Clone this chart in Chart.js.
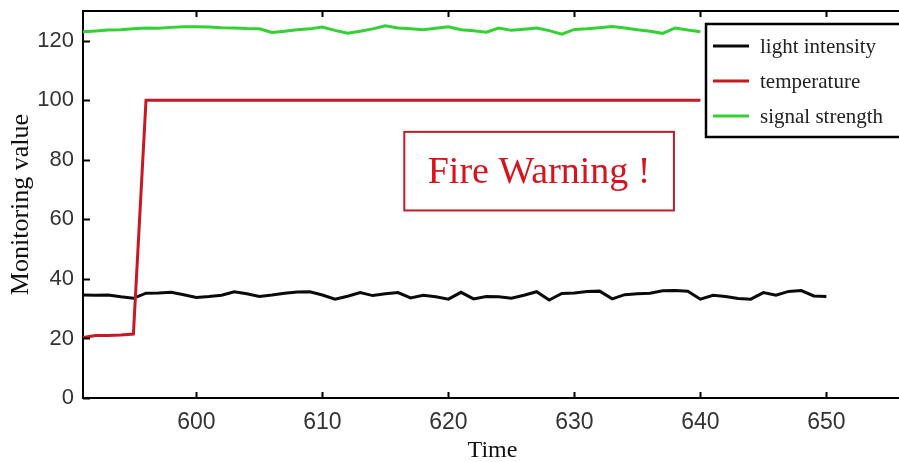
<!DOCTYPE html>
<html>
<head>
<meta charset="utf-8">
<script src="https://cdn.jsdelivr.net/npm/chart.js@4.4.1/dist/chart.umd.min.js"></script>
<style>
  html, body { margin: 0; padding: 0; background: #fff; overflow: hidden; }
  #monitorChart { display: block; }
</style>
</head>
<body>
<canvas id="monitorChart" width="905" height="462"></canvas>
<script>
// time axis (s)
const timeSec = [591, 592, 593, 594, 595, 596, 597, 598, 599, 600,
    601, 602, 603, 604, 605, 606, 607, 608, 609, 610,
    611, 612, 613, 614, 615, 616, 617, 618, 619, 620,
    621, 622, 623, 624, 625, 626, 627, 628, 629, 630,
    631, 632, 633, 634, 635, 636, 637, 638, 639, 640,
    641, 642, 643, 644, 645, 646, 647, 648, 649, 650];

const lightIntensity = [34.6, 34.5, 34.6, 34.0, 33.5, 35.2, 35.3, 35.5, 34.7, 33.8,
    34.1, 34.5, 35.7, 35.0, 34.1, 34.6, 35.2, 35.6, 35.7, 34.6,
    33.2, 34.2, 35.4, 34.4, 35.0, 35.4, 33.6, 34.5, 34.0, 33.2,
    35.5, 33.3, 34.1, 34.0, 33.5, 34.5, 35.7, 32.9, 35.1, 35.3,
    35.8, 35.9, 33.3, 34.7, 35.0, 35.2, 36.0, 36.1, 35.9, 33.2,
    34.5, 34.1, 33.4, 33.2, 35.4, 34.5, 35.8, 36.1, 34.3, 34.1];

const temperature = [20.3, 21.0, 21.0, 21.2, 21.5, 100, 100, 100, 100, 100,
    100, 100, 100, 100, 100, 100, 100, 100, 100, 100,
    100, 100, 100, 100, 100, 100, 100, 100, 100, 100,
    100, 100, 100, 100, 100, 100, 100, 100, 100, 100,
    100, 100, 100, 100, 100, 100, 100, 100, 100, 100];

const signalStrength = [123.0, 123.3, 123.6, 123.7, 124.0, 124.3, 124.2, 124.5, 124.7, 124.7,
    124.6, 124.4, 124.3, 124.1, 124.0, 122.8, 123.2, 123.7, 124.0, 124.6,
    123.5, 122.5, 123.2, 124.0, 125.0, 124.3, 124.0, 123.7, 124.2, 124.7,
    123.7, 123.4, 122.9, 124.3, 123.5, 123.9, 124.3, 123.4, 122.2, 123.8,
    124.0, 124.4, 124.8, 124.3, 123.7, 123.2, 122.5, 124.3, 123.6, 123.0];

const xTicks = [600, 610, 620, 630, 640, 650];
const yTicks = [0, 20, 40, 60, 80, 100, 120];

const warningText = 'Fire Warning !';

// pair time with values (series may be shorter than the time axis)
function ToPoints(values) {
    return values.map((v, i) => ({ x: timeSec[i], y: v }));
}

// MATLAB style frame: top border and inward tick marks, warning box, legend
const framePlugin = {
    id: 'frame',
    afterDraw(chart) {
        const ctx = chart.ctx;
        const area = chart.chartArea;
        const xs = chart.scales.x;
        const ys = chart.scales.y;
        ctx.save();
        ctx.strokeStyle = '#000';
        ctx.lineWidth = 2;
        ctx.beginPath();
        ctx.moveTo(area.left, area.top);
        ctx.lineTo(area.right, area.top);
        xTicks.forEach(v => {
            const px = Math.round(xs.getPixelForValue(v)) + 0.5;
            ctx.moveTo(px, area.bottom);
            ctx.lineTo(px, area.bottom - 6);
            ctx.moveTo(px, area.top);
            ctx.lineTo(px, area.top + 6);
        });
        yTicks.forEach(v => {
            const py = Math.round(ys.getPixelForValue(v)) + 0.5;
            ctx.moveTo(area.left, py);
            ctx.lineTo(area.left + 7, py);
        });
        ctx.stroke();

        // warning box, placed in data coordinates
        const bx1 = xs.getPixelForValue(616.5), bx2 = xs.getPixelForValue(637.9);
        const by1 = ys.getPixelForValue(89.4), by2 = ys.getPixelForValue(63);
        ctx.strokeStyle = 'rgb(190, 30, 40)';
        ctx.lineWidth = 2;
        ctx.strokeRect(bx1, by1, bx2 - bx1, by2 - by1);
        ctx.fillStyle = 'rgb(215, 20, 30)';
        ctx.font = '38px "Liberation Serif", "Times New Roman", serif';
        ctx.textAlign = 'center';
        ctx.textBaseline = 'middle';
        ctx.fillText(warningText, (bx1 + bx2) / 2, (by1 + by2) / 2 + 2);

        // legend box in the upper right corner
        const lx = 706, ly = 24, lh = 113;
        ctx.fillStyle = '#fff';
        ctx.fillRect(lx, ly, chart.width - lx + 10, lh);
        ctx.strokeStyle = '#000';
        ctx.lineWidth = 2.5;
        ctx.strokeRect(lx, ly, chart.width - lx + 10, lh);
        ctx.font = '21px "Liberation Serif", "Times New Roman", serif';
        ctx.textAlign = 'left';
        chart.data.datasets.forEach((ds, i) => {
            const y = ly + 22 + i * 35;
            ctx.strokeStyle = ds.borderColor;
            ctx.lineWidth = 3;
            ctx.beginPath();
            ctx.moveTo(713, y);
            ctx.lineTo(749, y);
            ctx.stroke();
            ctx.fillStyle = '#222';
            ctx.fillText(ds.label, 760, y + 1);
        });
        ctx.restore();
    }
};

const config = {
    type: 'line',
    data: {
        datasets: [
            {
                label: 'light intensity',
                data: ToPoints(lightIntensity),
                borderColor: 'rgb(10, 10, 10)',
                borderWidth: 3,
                order: 1
            },
            {
                label: 'temperature',
                data: ToPoints(temperature),
                borderColor: 'rgb(200, 25, 35)',
                borderWidth: 3,
                order: 0
            },
            {
                label: 'signal strength',
                data: ToPoints(signalStrength),
                borderColor: 'rgb(50, 210, 50)',
                borderWidth: 3,
                order: 2
            }
        ]
    },
    options: {
        responsive: false,
        animation: false,
        devicePixelRatio: 1,
        layout: { padding: { top: 11, right: 3, left: 0, bottom: 0 } },
        elements: {
            point: { radius: 0 },
            line: { tension: 0, fill: false }
        },
        plugins: {
            legend: { display: false },
            tooltip: { enabled: false }
        },
        scales: {
            x: {
                type: 'linear',
                min: 591,
                max: 656,
                afterBuildTicks: s => { s.ticks = xTicks.map(v => ({ value: v })); },
                afterFit: s => { s.height = 64; s.paddingLeft = 0; s.paddingRight = 0; },
                grid: { display: false, drawTicks: false },
                border: { display: true, color: '#000', width: 2 },
                ticks: {
                    color: '#333',
                    padding: 11,
                    maxRotation: 0,
                    font: { family: '"Liberation Sans", Arial, sans-serif', size: 23 }
                },
                title: {
                    display: true,
                    text: 'Time',
                    color: '#111',
                    padding: { top: 0, bottom: -3 },
                    font: { family: '"Liberation Serif", "Times New Roman", serif', size: 24 }
                }
            },
            y: {
                min: 0,
                max: 130,
                afterBuildTicks: s => { s.ticks = yTicks.map(v => ({ value: v })); },
                afterFit: s => { s.width = 83; s.paddingTop = 0; s.paddingBottom = 0; },
                grid: { display: false, drawTicks: false },
                border: { display: true, color: '#000', width: 2 },
                ticks: {
                    color: '#333',
                    padding: 9,
                    font: { family: '"Liberation Sans", Arial, sans-serif', size: 22 }
                },
                title: {
                    display: true,
                    text: 'Monitoring value',
                    color: '#111',
                    padding: { top: 6, bottom: 0 },
                    font: { family: '"Liberation Serif", "Times New Roman", serif', size: 26 }
                }
            }
        }
    },
    plugins: [framePlugin]
};

try {
    new Chart(document.getElementById('monitorChart'), config);
}
catch (e) {
    document.body.textContent = 'Error draw graph: ' + e;
}
</script>
</body>
</html>
